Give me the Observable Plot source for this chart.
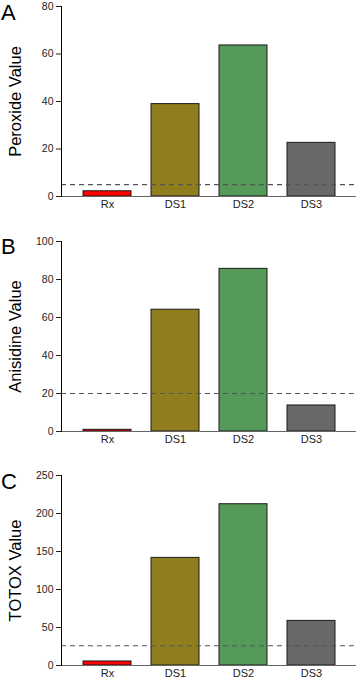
<!DOCTYPE html>
<html>
<head>
<meta charset="utf-8">
<script src="https://cdn.jsdelivr.net/npm/d3@7"></script>
<script src="https://cdn.jsdelivr.net/npm/@observablehq/plot@0.6"></script>
<style>
  html, body { margin: 0; padding: 0; background: #fff; }
  #wrap { position: relative; width: 357px; height: 680px; overflow: hidden; font-family: "Liberation Sans", Arial, sans-serif; }
  .panel { position: absolute; left: 0; }
  .letter { position: absolute; left: 1px; font-size: 22px; color: #000; line-height: 1; }
  svg { display: block; }
</style>
</head>
<body>
<div id="wrap"></div>
<script>
const categories = ["Rx", "DS1", "DS2", "DS3"];
const colors = ["#ff0000", "#8f7d1e", "#569a5a", "#686868"];
const peroxide = [2.2, 38.9, 63.6, 22.6];
const anisidine = [0.9, 64.1, 85.6, 13.7];
const totox = [5.3, 141.6, 212.2, 58.7];
const panelLetters = ["A", "B", "C"];
const yLabels = ["Peroxide Value", "Anisidine Value", "TOTOX Value"];
const yMax = [80, 100, 250];
const yTicks = [[0, 20, 40, 60, 80], [0, 20, 40, 60, 80, 100], [0, 50, 100, 150, 200, 250]];
const limits = [5, 20, 26];
const seriesList = [peroxide, anisidine, totox];

const panelTops = [0, 235, 469];
const panelHeights = [235, 234, 211];
const marginTops = [6, 6, 6];
const marginBottoms = [39, 38, 15];
const letterTops = [2, 236, 471];

const wrap = document.getElementById("wrap");
seriesList.forEach((vals, i) => {
  const data = categories.map((c, j) => ({cat: c, value: vals[j], color: colors[j]}));
  const chart = Plot.plot({
    width: 357,
    height: panelHeights[i],
    marginLeft: 61,
    marginRight: 1,
    marginTop: marginTops[i],
    marginBottom: marginBottoms[i],
    style: {fontFamily: "Liberation Sans, Arial, sans-serif", fontSize: "11px", color: "#222", background: "#fff"},
    x: {domain: categories, paddingInner: 0.297, paddingOuter: 0.31, label: null},
    y: {domain: [0, yMax[i]], ticks: yTicks[i], label: null},
    marks: [
      Plot.barY(data, {x: "cat", y: "value", fill: "color", stroke: "#1a1a1a", strokeWidth: 1}),
      Plot.ruleY([limits[i]], {stroke: "#555", strokeWidth: 1.2, strokeDasharray: "5,4"}),
      Plot.ruleY([0], {stroke: "#666", strokeWidth: 1.2}),
      Plot.axisX({tickSize: 0, tickPadding: 4, label: null, fontSize: 11}),
      Plot.axisY({ticks: yTicks[i], tickSize: 5, tickPadding: 3, label: null, fontSize: 10.5}),
      Plot.text([yLabels[i]], {frameAnchor: "left", rotate: -90, dx: -46, fontSize: 16.5, textAnchor: "middle", lineAnchor: "middle", fill: "#000"}),
      Plot.frame({anchor: "left", stroke: "#000", strokeWidth: 1})
    ]
  });
  const div = document.createElement("div");
  div.className = "panel";
  div.style.top = panelTops[i] + "px";
  div.appendChild(chart);
  wrap.appendChild(div);
  const lab = document.createElement("div");
  lab.className = "letter";
  lab.style.top = letterTops[i] + "px";
  lab.textContent = panelLetters[i];
  wrap.appendChild(lab);
});
</script>
</body>
</html>
